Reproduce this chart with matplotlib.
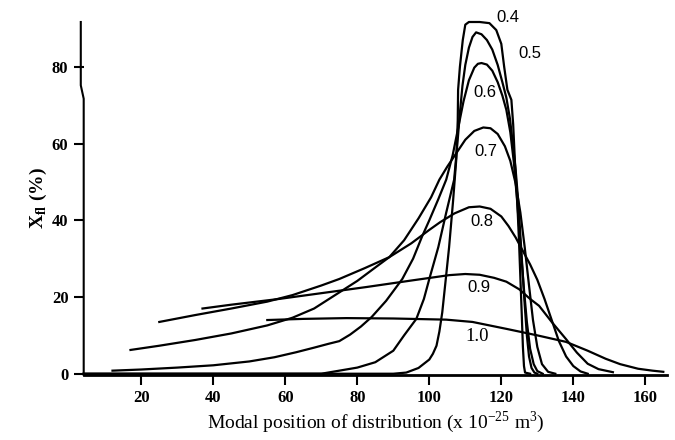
import matplotlib
matplotlib.use("Agg")
import matplotlib.pyplot as plt

plt.rcParams['font.family'] = ['Liberation Serif', 'DejaVu Serif']
plt.rcParams['mathtext.fontset'] = 'custom'
plt.rcParams['mathtext.rm'] = 'Liberation Serif'
plt.rcParams['mathtext.bf'] = 'Liberation Serif:bold'

# curves, one per parameter value
x04 = [4, 90, 93.6, 97, 100, 101, 102, 102.8, 103.6, 104.5, 105.5, 106.6, 107.5,
       107.9, 108, 108.5, 109.3, 110, 111, 114, 116.7, 118.6, 120, 120.8, 121.7, 122.8,
       123.3, 123.8, 124.4, 124.9, 125.3, 125.7, 126, 126.3, 126.6, 128]
y04 = [0, 0, 0.3, 1.5, 3.7, 5.2, 7.3, 11, 16, 24, 33, 45, 56,
       66, 74, 80, 87, 91, 91.7, 91.7, 91.4, 89.6, 86, 80, 74, 71.4,
       65, 55, 45.5, 35, 25, 15, 7, 2, 0.3, 0]

x05 = [4, 70, 75, 80, 85, 90, 93, 96.4, 98.5, 100, 101.3, 102.5, 103.6, 104.7, 105.8,
       106.9, 107.8, 108.5, 109.2, 110, 111, 112, 113, 114.5, 116, 117.5, 119, 120.3,
       121.4, 122.4, 123.2, 124, 124.7, 125.3, 125.9, 126.5, 127.1, 127.7, 128.4, 129.2, 130]
y05 = [0, 0, 0.8, 1.6, 3, 6, 10, 14.3, 19.5, 24.7, 29, 33, 37.5, 42, 46.3,
       50.6, 60, 68, 75, 80.5, 85, 87.8, 89, 88.5, 87, 84.5, 80.5, 76,
       72, 66.5, 60, 53, 45, 36, 27, 18, 10, 4.5, 1.5, 0.3, 0]

x06 = [12, 20, 30, 40, 50, 57, 63, 68, 72, 75, 78, 81, 84, 88, 92.5, 95.5, 98, 100,
       102.5, 104.7, 106.5, 108, 109.5, 111, 112.5, 113.5, 114.5, 116, 117.5, 119,
       120.3, 121.4, 122.5, 123.5, 124.4, 125.3, 126.2, 127.1, 128, 129, 130, 131.5]
y06 = [0.8, 1.1, 1.6, 2.2, 3.2, 4.3, 5.6, 6.8, 7.8, 8.5, 10.2, 12.3, 14.8, 19, 24.7,
       30, 35.8, 40, 45.5, 50.6, 57, 64, 71, 76.5, 79.8, 80.8, 81, 80.6, 79, 76,
       72.5, 68.8, 63, 55, 45, 34, 23, 13.5, 6.5, 2.5, 0.7, 0]

x07 = [17, 25, 35, 45, 55, 62, 68, 75, 80, 85, 88.9, 93, 97, 100.5, 102.8, 105,
       107.5, 110, 112.5, 115, 117, 119, 121, 122.5, 124, 125.3, 126.5, 127.7, 128.8,
       130, 131.3, 133, 135]
y07 = [6.2, 7.3, 8.8, 10.5, 12.6, 14.6, 17, 21.2, 24.2, 27.7, 30.4, 34.8, 40.5, 46, 50.6,
       54, 57.5, 61, 63.3, 64.2, 64, 62.5, 59.3, 55.5, 49.5, 42, 33, 23, 14,
       7, 2.5, 0.5, 0]

x08 = [25, 35, 45, 55, 62, 70, 75, 82, 88.9, 95, 100, 103, 107, 111, 114, 117, 120,
       122, 124, 126, 128, 130, 132, 134, 136, 138, 140, 142, 144]
y08 = [13.5, 15.3, 17, 18.8, 20.5, 23, 24.7, 27.5, 30.4, 34, 37.5, 39.5, 41.8, 43.4, 43.6,
       43, 41, 38.5, 35.5, 32, 28.5, 24.5, 19.5, 14, 8.5, 4.5, 2, 0.6, 0]

x09 = [37, 45, 58.3, 70, 82.5, 95, 105.5, 110, 114, 118, 121.4, 125, 128, 130.5, 134,
       138, 141, 144, 147, 151]
y09 = [17, 18, 19.5, 21, 22.6, 24.3, 25.7, 26, 25.8, 25, 24, 22, 19.5, 17.7, 13.5,
       9, 5.5, 2.6, 1.2, 0.4]

x10 = [55, 65, 77, 90, 104.7, 112, 121.4, 130, 138, 144, 149, 153, 158, 162, 165]
y10 = [14, 14.3, 14.5, 14.4, 14.1, 13.5, 11.7, 10, 8.3, 6, 3.9, 2.5, 1.3, 0.8, 0.5]

curves = [(x04, y04), (x05, y05), (x06, y06), (x07, y07), (x08, y08), (x09, y09), (x10, y10)]
labels = ['0.4', '0.5', '0.6', '0.7', '0.8', '0.9', '1.0']
label_x = [121.8, 127.8, 115.3, 115.7, 114.5, 113.9, 113.3]
label_y = [93, 83.6, 73.2, 58, 39.8, 22.6, 9.6]
# the curve labels look sans, except the last one
label_font = ['Liberation Sans'] * 6 + ['Liberation Serif']
label_size = [12] * 6 + [13.5]

fig = plt.figure(figsize=(6.75, 4.4), dpi=100)
ax = fig.add_axes([0.124, 0.148, 0.864, 0.802])

for (xs, ys) in curves:
    ax.plot(xs, ys, color='black', lw=1.6, solid_joinstyle='round', clip_on=False)

for lab, lx, ly, fam, fs in zip(labels, label_x, label_y, label_font, label_size):
    ax.text(lx, ly, lab, fontsize=fs, ha='center', va='center', family=fam)

ax.set_xlim(4, 166)
ax.set_ylim(-0.3, 91.7)
ax.set_xticks([20, 40, 60, 80, 100, 120, 140, 160])
ax.set_yticks([0, 20, 40, 60, 80])
ax.tick_params(axis='both', direction='out', width=1.5, labelsize=12)
ax.tick_params(axis='y', length=7, pad=4)
ax.tick_params(axis='x', length=7, pad=4)
for t in ax.get_xticklabels() + ax.get_yticklabels():
    t.set_fontweight('bold')

for s in ['top', 'right', 'left']:
    ax.spines[s].set_visible(False)
ax.spines['bottom'].set_linewidth(2)

# broken y axis drawn by hand
ax.plot([0, 0, -0.005, -0.005], [0, 72 / 92, 75.5 / 92, 1], transform=ax.transAxes,
        color='black', lw=1.5, clip_on=False)

ax.set_xlabel('Modal position of distribution (x 10$^{-25}$ m$^{3}$)', fontsize=14, labelpad=2)
ax.set_ylabel('X$_{\\mathbf{fl}}$ (%)', fontsize=14, fontweight='bold', labelpad=2)

fig.savefig('out.png', dpi=100)
